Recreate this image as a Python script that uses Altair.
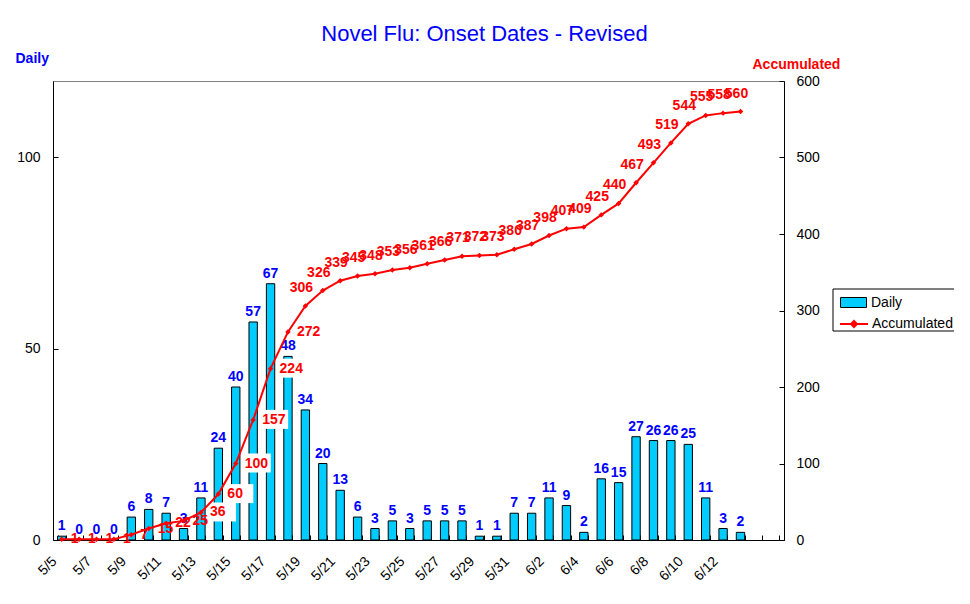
import json
import altair as alt
import pandas as pd

# ---- data ----
dates = [f"5/{d}" for d in range(5, 32)] + [f"6/{d}" for d in range(1, 16)]
daily = [1, 0, 0, 0, 6, 8, 7, 3, 11, 24, 40, 57, 67, 48, 34, 20, 13, 6, 3, 5,
         3, 5, 5, 5, 1, 1, 7, 7, 11, 9, 2, 16, 15, 27, 26, 26, 25, 11, 3, 2]
accumulated = [1, 1, 1, 1, 7, 15, 22, 25, 36, 60, 100, 157, 224, 272, 306, 326,
               339, 345, 348, 353, 356, 361, 366, 371, 372, 373, 380, 387, 398,
               407, 409, 425, 440, 467, 493, 519, 544, 555, 558, 560]
shown_labels = dates[0:39:2]
left_ticks = [0, 50, 100]
right_ticks = [0, 100, 200, 300, 400, 500, 600]

W, H = 731, 459
FONT = "Liberation Sans"
BLUE = "#0000FF"
RED = "#FF0000"
CYAN = "#00CCFF"

n = len(daily)
df = pd.DataFrame({
    "date": dates[:n],
    "daily": daily,
    "accumulated": accumulated,
    "idx": list(range(n)),
    "s_bar": ["Daily"] * n,
    "s_line": ["Accumulated"] * n,
})

xscale = alt.Scale(domain=dates, paddingInner=0.52, paddingOuter=0.26)
label_expr = "indexof(" + json.dumps(shown_labels) + ", datum.value) >= 0 ? datum.value : ''"

x_main = alt.X("date:N", scale=xscale, axis=alt.Axis(
    orient="bottom", title=None, labelAngle=-45, labelExpr=label_expr,
    ticks=False, labelPadding=14, labelOffset=-12, domainColor="black",
    labelOverlap=False, labelFontSize=14, labelColor="black", labelFont=FONT))
x_tick = alt.X("date:N", scale=xscale, axis=alt.Axis(
    orient="top", offset=-H, labels=False, domain=False, ticks=True,
    tickSize=5, tickColor="black", tickBand="extent", title=None))
x_none = alt.X("date:N", scale=xscale, axis=None)

ybar_scale = alt.Scale(domain=[0, 120], nice=False)
ybar_main = alt.Y("daily:Q", scale=ybar_scale, axis=alt.Axis(
    orient="left", values=left_ticks, ticks=False, grid=False, labelPadding=13,
    domainColor="black", title="Daily", titleAngle=0, titleAlign="left",
    titleBaseline="middle", titleX=-38, titleY=-23, titleColor=BLUE,
    titleFontWeight="bold", titleFontSize=14, titleFont=FONT))
ybar_tick = alt.Y("daily:Q", scale=ybar_scale, axis=alt.Axis(
    orient="right", offset=-W, values=left_ticks, labels=False, domain=False,
    ticks=True, tickSize=5, tickColor="black", grid=False, title=None))

yacc_scale = alt.Scale(domain=[0, 600], nice=False)
yacc_main = alt.Y("accumulated:Q", scale=yacc_scale, axis=alt.Axis(
    orient="right", values=right_ticks, ticks=False, grid=False, labelPadding=12,
    domainColor="black", title="Accumulated", titleAngle=0, titleAlign="left",
    titleBaseline="middle", titleX=-32, titleY=-17, titleColor=RED,
    titleFontWeight="bold", titleFontSize=14, titleFont=FONT))
yacc_tick = alt.Y("accumulated:Q", scale=yacc_scale, axis=alt.Axis(
    orient="left", offset=-W, values=right_ticks, labels=False, domain=False,
    ticks=True, tickSize=5, tickColor="black", grid=False, title=None))
yacc_none = alt.Y("accumulated:Q", scale=yacc_scale, axis=None)

base = alt.Chart(df)

bars = base.mark_bar(stroke="black", strokeWidth=1).encode(
    x=x_main, y=ybar_main,
    fill=alt.Fill("s_bar:N", scale=alt.Scale(domain=["Daily"], range=[CYAN]),
                  legend=alt.Legend(orient="none", legendX=790, legendY=211, title=None,
                                    symbolType="M-1.3,-0.5H1.3V0.5H-1.3Z", symbolSize=400,
                                    symbolStrokeColor="black", symbolStrokeWidth=1,
                                    labelOffset=7, labelFont=FONT, labelFontSize=14,
                                    labelColor="black")))
bar_labels = base.mark_text(baseline="bottom", dy=-3, color=BLUE, fontWeight="bold",
                            fontSize=14, font=FONT).encode(
    x=x_none, y=ybar_tick, text="daily:Q")

boxes = base.transform_filter("datum.idx >= 8 && datum.idx <= 13").mark_point(
    shape="M0.7,-1H3.5V0.9H0.7Z", size=400, filled=True, fill="white",
    strokeWidth=0, opacity=1).encode(x=x_none, y=yacc_none)
line = base.mark_line(strokeWidth=2).encode(
    x=x_tick, y=yacc_main,
    stroke=alt.Stroke("s_line:N", scale=alt.Scale(domain=["Accumulated"], range=[RED]),
                      legend=alt.Legend(orient="none", legendX=790, legendY=232, title=None,
                                        symbolType="M-1.4,0H1.4M0,-0.3L0.3,0L0,0.3L-0.3,0Z",
                                        symbolSize=400, symbolStrokeWidth=2,
                                        symbolFillColor=RED,
                                        labelOffset=7, labelFont=FONT, labelFontSize=14,
                                        labelColor="black")))
points = base.mark_point(shape="diamond", filled=True, size=30, color=RED, opacity=1).encode(
    x=x_none, y=yacc_tick)
lab_early = base.transform_filter("datum.idx <= 13").mark_text(
    align="left", baseline="middle", dx=9, color=RED, fontWeight="bold",
    fontSize=14, font=FONT).encode(x=x_none, y=yacc_none, text="accumulated:Q")
lab_late = base.transform_filter("datum.idx > 13").mark_text(
    align="center", baseline="middle", dx=-4, dy=-18, color=RED, fontWeight="bold",
    fontSize=14, font=FONT).encode(x=x_none, y=yacc_none, text="accumulated:Q")

frame = alt.Chart(pd.DataFrame({"k": [0]})).mark_rect(
    fillOpacity=0, stroke="black", strokeWidth=1).encode(
    x=alt.value(780), x2=alt.value(908), y=alt.value(208), y2=alt.value(250))

chart = alt.layer(bars, bar_labels, boxes, line, points, lab_early, lab_late, frame
).resolve_scale(y="independent").resolve_axis(
    x="independent", y="independent").properties(
    width=W, height=H,
    autosize=alt.AutoSizeParams(type="none"),
    padding={"left": 45, "top": 73, "right": 170, "bottom": 50},
    title=alt.Title("Novel Flu: Onset Dates - Revised", fontSize=22, color=BLUE,
                    fontWeight="normal", font=FONT, anchor="middle", dx=66, offset=5),
).configure_view(stroke="#808080", strokeWidth=1).configure_axis(
    labelFont=FONT, titleFont=FONT, labelFontSize=14, labelColor="black", grid=False
).configure_legend(labelFont=FONT, labelFontSize=14, padding=0)

chart.save("out.html", embed_options={"renderer": "svg", "actions": False})
